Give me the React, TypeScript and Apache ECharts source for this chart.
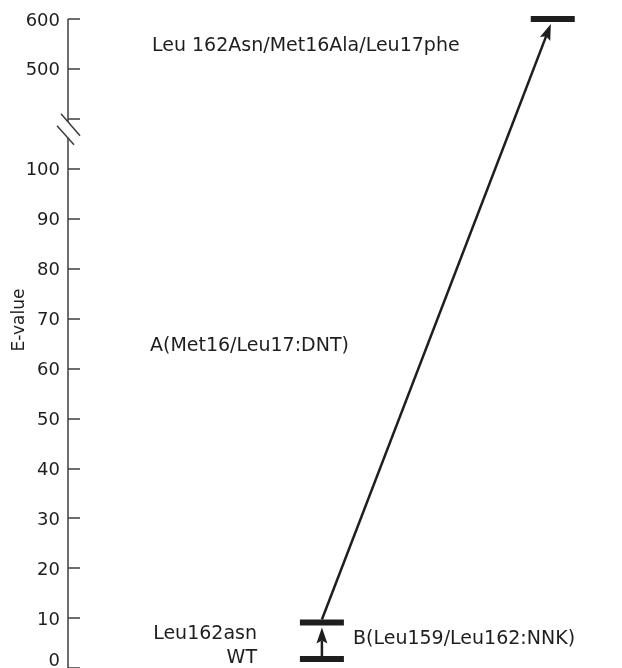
import React, { useEffect, useRef } from 'react';
import * as echarts from 'echarts';

// ---- data ----
const variants = ['WT', 'Leu162asn', 'Leu 162Asn/Met16Ala/Leu17phe'];
const eValues = [1.8, 9.1, 600];
const rounds = [1, 1, 2];
const libraries = ['B(Leu159/Leu162:NNK)', 'A(Met16/Leu17:DNT)'];
const stepFrom = [0, 1];
const stepTo = [1, 2];
const lowTicks = [0, 10, 20, 30, 40, 50, 60, 70, 80, 90, 100];
const highTicks = [500, 600];
const axisTitle = 'E-value';

// broken-axis mapping: 0..100 linear, break, 500..600 compressed
const LOW_MAX = 100;
const HIGH_MIN = 500;
const BREAK_POS = 110;
function toAxis(v: number): number {
  if (v <= LOW_MAX) return v;
  if (v >= HIGH_MIN) return BREAK_POS + 10 + (v - HIGH_MIN) / 10;
  return LOW_MAX + ((v - LOW_MAX) / (HIGH_MIN - LOW_MAX)) * 10;
}
function fromAxis(d: number): string {
  const r = Math.round(d);
  if (r <= LOW_MAX) return lowTicks.includes(r) ? String(r) : '';
  if (r === BREAK_POS) return '';
  const v = HIGH_MIN + (r - BREAK_POS - 10) * 10;
  return highTicks.includes(v) ? String(v) : '';
}

const FONT = 'DejaVu Sans';
const INK = '#1e1e1e';
const AXIS = '#3c3c3c';
const X_MIN = -0.1;
const X_MAX = 2.3;

export default function App() {
  const ref = useRef<HTMLDivElement>(null);
  useEffect(() => {
    if (!ref.current) return;
    const chart = echarts.init(ref.current, null, { renderer: 'svg' });

    const barData = eValues.map((v, i) => [rounds[i], toAxis(v)]);
    const arrowData = stepFrom.map((a, k) => {
      const b = stepTo[k];
      return [rounds[a], toAxis(eValues[a]), rounds[b], toAxis(eValues[b])];
    });

    chart.setOption({
      animation: false,
      grid: { left: 68, right: 0, top: 19, height: 651 },
      xAxis: { type: 'value', min: X_MIN, max: X_MAX, show: false },
      yAxis: {
        type: 'value',
        min: 0,
        max: 130,
        interval: 10,
        axisLine: { show: false, onZero: false },
        splitLine: { show: false },
        axisTick: { show: true, inside: true, length: 12, lineStyle: { color: AXIS, width: 1.5 } },
        axisLabel: {
          margin: 8,
          fontSize: 18,
          fontFamily: FONT,
          color: INK,
          formatter: (v: number) => fromAxis(v),
          verticalAlignMinLabel: 'bottom',
        },
      },
      graphic: [
        {
          type: 'text',
          x: 18,
          y: 320,
          rotation: Math.PI / 2,
          style: { text: axisTitle, fontSize: 17, fontFamily: FONT, fill: INK, align: 'center', verticalAlign: 'middle' },
        },
        {
          type: 'text', x: 152, y: 44,
          style: { text: variants[2], fontSize: 19, fontFamily: FONT, fill: INK, align: 'left', verticalAlign: 'middle' },
        },
        {
          type: 'text', x: 150, y: 344,
          style: { text: libraries[1], fontSize: 19, fontFamily: FONT, fill: INK, align: 'left', verticalAlign: 'middle' },
        },
        {
          type: 'text', x: 257, y: 632,
          style: { text: variants[1], fontSize: 19, fontFamily: FONT, fill: INK, align: 'right', verticalAlign: 'middle' },
        },
        {
          type: 'text', x: 257, y: 656,
          style: { text: variants[0], fontSize: 19, fontFamily: FONT, fill: INK, align: 'right', verticalAlign: 'middle' },
        },
        {
          type: 'text', x: 353, y: 637,
          style: { text: libraries[0], fontSize: 19, fontFamily: FONT, fill: INK, align: 'left', verticalAlign: 'middle' },
        },
      ],
      series: [
        {
          type: 'custom',
          name: 'axis',
          data: [[X_MIN, 0]],
          renderItem: (_p: any, api: any) => {
            const top = api.coord([X_MIN, 130]);
            const bot = api.coord([X_MIN, 0]);
            const br = api.coord([X_MIN, BREAK_POS]);
            const x = top[0];
            const y = br[1];
            const ls = { stroke: AXIS, lineWidth: 1.5 };
            return {
              type: 'group',
              children: [
                { type: 'line', shape: { x1: x, y1: top[1], x2: x, y2: y + 3 }, style: ls },
                { type: 'line', shape: { x1: x, y1: y + 19, x2: x, y2: bot[1] }, style: ls },
                { type: 'line', shape: { x1: x - 7, y1: y - 5, x2: x + 12, y2: y + 17 }, style: ls },
                { type: 'line', shape: { x1: x - 11, y1: y + 7, x2: x + 6, y2: y + 26 }, style: ls },
              ],
            };
          },
          silent: true,
          z: 3,
        },
        {
          type: 'custom',
          name: 'variants',
          data: barData,
          renderItem: (_p: any, api: any) => {
            const p = api.coord([api.value(0), api.value(1)]);
            return {
              type: 'rect',
              shape: { x: p[0] - 22, y: p[1] - 3, width: 44, height: 6 },
              style: { fill: INK },
            };
          },
          z: 4,
        },
        {
          type: 'custom',
          name: 'steps',
          data: arrowData,
          renderItem: (_p: any, api: any) => {
            const p0 = api.coord([api.value(0), api.value(1)]);
            const p1 = api.coord([api.value(2), api.value(3)]);
            const sx = p0[0];
            const sy = p0[1] - 3;
            const endY = p1[1] + 5;
            const t = (sy - endY) / (sy - p1[1]);
            const ex = sx + t * (p1[0] - sx);
            const ey = endY;
            const dx = ex - sx;
            const dy = ey - sy;
            const len = Math.sqrt(dx * dx + dy * dy);
            const ux = dx / len;
            const uy = dy / len;
            const nx = -uy;
            const ny = ux;
            const L = 16;
            const W = 5.5;
            const notch = 13;
            const bx = ex - ux * L;
            const by = ey - uy * L;
            const mx = ex - ux * notch;
            const my = ey - uy * notch;
            return {
              type: 'group',
              children: [
                { type: 'line', shape: { x1: sx, y1: sy, x2: mx, y2: my }, style: { stroke: INK, lineWidth: 2.5 } },
                {
                  type: 'polygon',
                  shape: { points: [[ex, ey], [bx + nx * W, by + ny * W], [mx, my], [bx - nx * W, by - ny * W]] },
                  style: { fill: INK },
                },
              ],
            };
          },
          z: 5,
        },
      ],
    });
    return () => chart.dispose();
  }, []);
  return <div ref={ref} style={{ position: 'fixed', left: 0, top: 0, width: 622, height: 668 }} />;
}
